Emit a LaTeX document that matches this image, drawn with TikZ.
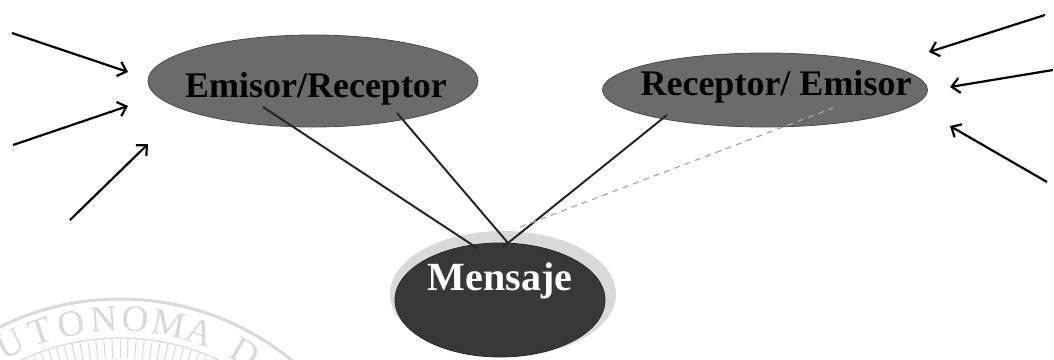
\documentclass[tikz,border=0pt]{standalone}
\usepackage{fontspec}
\setmainfont{Liberation Serif}
\usetikzlibrary{arrows.meta,shapes.geometric,calc}
\begin{document}
\begin{tikzpicture}[x=1pt,y=-1pt,
  blob/.style={ellipse, inner sep=0pt, fill=black!58, draw=black!70, line width=0.8pt},
  lbl/.style={inner sep=0pt, anchor=base, font=\fontsize{36}{36}\selectfont\bfseries},
  link/.style={line width=2pt, black!85},
  faint/.style={line width=1.2pt, black!35, dash pattern=on 6pt off 5pt},
  inarrow/.style={line width=2.2pt, -{Straight Barb[length=8pt,width=15pt,line width=2.2pt]}},
  wm/.style={gray!30},
  wmletter/.style={wm, inner sep=0pt, font=\fontsize{37}{37}\selectfont}]
\useasboundingbox (0,0) rectangle (1054,359);
% watermark seal
\begin{scope}
  \clip (0,0) rectangle (1054,359);
  \coordinate (sc) at (120,570);
  \draw[wm, line width=3pt] (sc) circle[radius=271pt];
  \draw[wm, line width=1.2pt] (sc) circle[radius=232pt];
  \foreach \a in {-36,-34,...,36}
    \draw[wm, line width=1pt] ($(sc)+(90-\a:212pt)$) -- ($(sc)+(90-\a:231pt)$);
  \foreach \ch/\th [count=\i] in {U/-26,T/-18.4,O/-11.1,N/-3.7,O/3.6,M/11.2,A/18.6,D/30}
    \node[wmletter, rotate=-\th] (w\i) at ($(sc)+(90-\th:251pt)$) {\ch};
\end{scope}
% ellipses
\node[blob, minimum width=330pt, minimum height=92pt] (e) at (313,81) {};
\node[blob, minimum width=325pt, minimum height=74pt] (r) at (765,90) {};
\node[ellipse, inner sep=0pt, fill=black!15, minimum width=226pt, minimum height=126pt] (halo) at (503,294) {};
\node[blob, fill=black!78, draw=black!85, minimum width=210pt, minimum height=114pt] (m) at (500,300) {};
% texts
\node[lbl, text=black] (et) at (316,97) {Emisor/Receptor};
\node[lbl, text=black] (rt) at (776,95) {Receptor/ Emisor};
\node[lbl, text=white, font=\fontsize{40}{40}\selectfont\bfseries] (mt) at (500,290) {Mensaje};
% connectors
\draw[link] ($(e.center)+(-50,26)$) -- ($(m.center)+(-23,-52)$);
\draw[link] ($(e.center)+(84,32)$) -- ($(m.center)+(8,-57)$);
\draw[link] ($(r.center)+(-98,25)$) -- ($(m.center)+(3,-53)$);
\draw[faint] ($(m.center)+(20,-73)$) -- ($(r.center)+(68,18)$);
% incoming arrows
\coordinate (a1s) at (12,33);   \coordinate (a1e) at (128,72);
\coordinate (a2s) at (13,145);  \coordinate (a2e) at (128,106);
\coordinate (a3s) at (70,220);  \coordinate (a3e) at (148,144);
\coordinate (a4s) at (1045,15); \coordinate (a4e) at (929,52);
\coordinate (a5s) at (1053,70); \coordinate (a5e) at (950,87);
\coordinate (a6s) at (1047,182);\coordinate (a6e) at (950,126);
\foreach \k in {1,...,6} \draw[inarrow] (a\k s) -- (a\k e);
\end{tikzpicture}
\end{document}
